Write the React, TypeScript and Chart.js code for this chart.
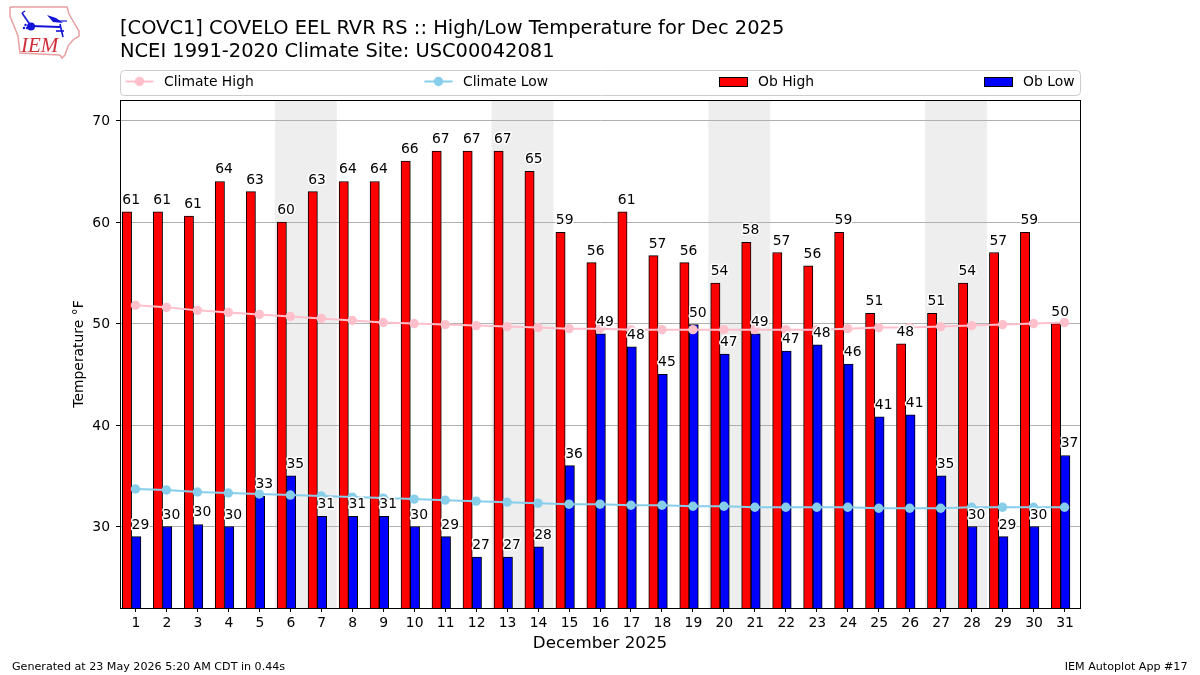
import React, { useEffect, useRef } from "react";
import { Chart, registerables } from "chart.js";

Chart.register(...registerables);

const titleLines = [
  "[COVC1] COVELO EEL RVR RS :: High/Low Temperature for Dec 2025",
  "NCEI 1991-2020 Climate Site: USC00042081",
];
const days = [1, 2, 3, 4, 5, 6, 7, 8, 9, 10, 11, 12, 13, 14, 15, 16, 17, 18, 19, 20, 21, 22, 23, 24, 25, 26, 27, 28, 29, 30, 31];
const obHigh = [61, 61, 60.6, 64, 63, 60, 63, 64, 64, 66, 67, 67, 67, 65, 59, 56, 61, 56.7, 56, 54, 58, 57, 55.7, 59, 51, 48, 51, 54, 57, 59, 50];
const obLow = [29, 30, 30.2, 30, 33, 35, 31, 31, 31, 30, 29, 27, 27, 28, 36, 49, 47.7, 45, 49.9, 47, 49, 47.3, 47.9, 46, 40.8, 41, 35, 30, 29, 30, 37];
const climateHigh = [51.8, 51.6, 51.3, 51.1, 50.9, 50.7, 50.5, 50.3, 50.1, 50.0, 49.9, 49.8, 49.7, 49.6, 49.5, 49.5, 49.4, 49.4, 49.4, 49.4, 49.4, 49.4, 49.4, 49.5, 49.6, 49.6, 49.7, 49.8, 49.9, 50.0, 50.1];
const climateLow = [33.7, 33.6, 33.4, 33.3, 33.2, 33.1, 33.0, 32.9, 32.8, 32.7, 32.6, 32.5, 32.4, 32.3, 32.2, 32.2, 32.1, 32.1, 32.0, 32.0, 31.9, 31.9, 31.9, 31.9, 31.8, 31.8, 31.8, 31.9, 31.9, 31.9, 31.9];
const weekendSpans = [[5.5, 7.5], [12.5, 14.5], [19.5, 21.5], [26.5, 28.5]];
const yTicks = [30, 40, 50, 60, 70];
const footerLeft = "Generated at 23 May 2026 5:20 AM CDT in 0.44s";
const footerRight = "IEM Autoplot App #17";

const FONT = "'DejaVu Sans'";
const BAR_UNITS = 0.3;
const BAR_SHIFT = 0.025;

const bandsPlugin = {
  id: "bands",
  beforeDraw(chart: any) {
    const { ctx, chartArea, scales } = chart;
    ctx.save();
    ctx.fillStyle = "#eeeeee";
    for (const [a, b] of weekendSpans) {
      const x0 = scales.x.getPixelForValue(a);
      const x1 = scales.x.getPixelForValue(b);
      ctx.fillRect(x0, chartArea.top, x1 - x0, chartArea.bottom - chartArea.top);
    }
    ctx.restore();
  },
};

const overlayPlugin = {
  id: "overlay",
  afterDatasetsDraw(chart: any) {
    const { ctx, chartArea, scales } = chart;
    ctx.save();
    ctx.strokeStyle = "#000";
    ctx.lineWidth = 1;
    ctx.strokeRect(chartArea.left + 0.5, chartArea.top + 0.5, chartArea.right - chartArea.left, chartArea.bottom - chartArea.top);

    ctx.font = `13.9px ${FONT}`;
    ctx.textAlign = "left";
    ctx.textBaseline = "alphabetic";
    ctx.lineJoin = "round";
    const unit = scales.x.getPixelForValue(1) - scales.x.getPixelForValue(0);
    const halfBar = (BAR_UNITS * unit) / 2;
    const draw = (vals: number[], off: number) => {
      vals.forEach((v, i) => {
        const x = scales.x.getPixelForValue(days[i] + off) - halfBar;
        const y = scales.y.getPixelForValue(v) - 8;
        const s = String(Math.round(v));
        ctx.strokeStyle = "#fff";
        ctx.lineWidth = 3;
        ctx.strokeText(s, x, y);
        ctx.fillStyle = "#000";
        ctx.fillText(s, x, y);
      });
    };
    draw(obHigh, BAR_SHIFT - BAR_UNITS);
    draw(obLow, BAR_SHIFT);
    ctx.restore();
  },
  afterDraw(chart: any) {
    const { ctx, chartArea } = chart;
    ctx.save();
    const lx = chartArea.left + 0.5;
    const lw = chartArea.right - chartArea.left;
    ctx.beginPath();
    ctx.roundRect(lx, 70.5, lw, 25, 4);
    ctx.strokeStyle = "#cccccc";
    ctx.lineWidth = 1;
    ctx.stroke();
    ctx.fillStyle = "#000";
    ctx.font = `13.9px ${FONT}`;
    ctx.textBaseline = "alphabetic";
    ctx.textAlign = "left";
    const starts = [125.5, 424.5, 719, 984];
    chart.data.datasets.forEach((ds: any, i: number) => {
      const x = starts[i];
      const cy = 81.5;
      let textOff = 39;
      if (ds.type === "line") {
        textOff = 38.5;
        ctx.strokeStyle = ds.borderColor;
        ctx.lineWidth = 2;
        ctx.beginPath();
        ctx.moveTo(x, cy);
        ctx.lineTo(x + 28, cy);
        ctx.stroke();
        ctx.fillStyle = ds.backgroundColor;
        ctx.beginPath();
        ctx.arc(x + 14, cy, 4.7, 0, Math.PI * 2);
        ctx.fill();
      } else {
        ctx.fillStyle = ds.backgroundColor;
        ctx.fillRect(x, 77, 28, 10);
        ctx.strokeStyle = "#000";
        ctx.lineWidth = 1;
        ctx.strokeRect(x + 0.5, 77.5, 28, 9);
      }
      ctx.fillStyle = "#000";
      ctx.fillText(ds.label, x + textOff, 86);
    });
    ctx.font = `11.12px ${FONT}`;
    ctx.textAlign = "left";
    ctx.fillText(footerLeft, 12, 670);
    ctx.textAlign = "right";
    ctx.fillText(footerRight, 1187.5, 670);
    ctx.restore();
  },
};

function Logo() {
  return (
    <svg width="90" height="64" style={{ position: "absolute", left: 0, top: 0 }}>
      <polyline
        points="10,7 67,7 69,14 73,21 79,31 79,36 73,40 68,46 65,55 62,58 60,55 20,53 18,36 10,16 10,7"
        fill="none"
        stroke="#e8a0a0"
        strokeWidth="1.5"
      />
      <line x1="31" y1="26" x2="60" y2="27" stroke="#1414d8" strokeWidth="2" />
      <circle cx="31" cy="26.5" r="4" fill="#1414d8" />
      <polygon points="47,15 56,18 63,23 53,22" fill="#1414d8" />
      <line x1="54" y1="21" x2="67" y2="21" stroke="#1414d8" strokeWidth="1.2" />
      <line x1="60" y1="24" x2="63" y2="37" stroke="#1414d8" strokeWidth="1.6" />
      <line x1="56" y1="31" x2="64" y2="31" stroke="#1414d8" strokeWidth="1.6" />
      <line x1="22" y1="13" x2="31" y2="26" stroke="#1414d8" strokeWidth="1.6" />
      <line x1="22" y1="13" x2="25" y2="11" stroke="#1414d8" strokeWidth="1.4" />
      <circle cx="24" cy="28" r="1.2" fill="#1414d8" />
      <circle cx="27" cy="28" r="1.2" fill="#1414d8" />
      <circle cx="25.5" cy="25" r="1.2" fill="#1414d8" />
      <text x="21" y="52" fontFamily="'Liberation Serif'" fontStyle="italic" fontSize="21" fill="#d0303a">IEM</text>
    </svg>
  );
}

export default function App() {
  const ref = useRef<HTMLCanvasElement>(null);
  useEffect(() => {
    const chart = new Chart(ref.current!, {
      type: "bar",
      plugins: [bandsPlugin, overlayPlugin],
      data: {
        datasets: [
          {
            type: "line",
            label: "Climate High",
            data: days.map((d, i) => ({ x: d, y: climateHigh[i] })),
            borderColor: "#ffc0cb",
            backgroundColor: "#ffc0cb",
            borderWidth: 2,
            pointRadius: 4.7,
            pointBorderWidth: 0,
            order: 1,
          },
          {
            type: "line",
            label: "Climate Low",
            data: days.map((d, i) => ({ x: d, y: climateLow[i] })),
            borderColor: "#87ceeb",
            backgroundColor: "#87ceeb",
            borderWidth: 2,
            pointRadius: 4.7,
            pointBorderWidth: 0,
            order: 2,
          },
          {
            type: "bar",
            label: "Ob High",
            data: days.map((d, i) => ({ x: d - BAR_UNITS + BAR_SHIFT, y: obHigh[i] })),
            backgroundColor: "#ff0000",
            borderColor: "#000",
            borderWidth: 1,
            barThickness: 9.3,
            grouped: false,
            order: 3,
          },
          {
            type: "bar",
            label: "Ob Low",
            data: days.map((d, i) => ({ x: d + BAR_SHIFT, y: obLow[i] })),
            backgroundColor: "#0000ff",
            borderColor: "#000",
            borderWidth: 1,
            barThickness: 9.3,
            grouped: false,
            order: 4,
          },
        ] as any,
      },
      options: {
        animation: false,
        responsive: false,
        layout: { padding: { top: 0, left: 0, right: 120, bottom: 0 } },
        plugins: {
          legend: { display: false },
          tooltip: { enabled: false },
          title: {
            display: true,
            text: titleLines,
            align: "start",
            fullSize: false,
            color: "#000",
            font: { family: FONT, size: 19.44, weight: "normal", lineHeight: 1.15 },
            padding: { top: 18.2, bottom: 37.1 },
          },
        },
        scales: {
          x: {
            type: "linear",
            min: 0.5,
            max: 31.5,
            offset: false,
            grid: { display: true, offset: false, drawOnChartArea: false, tickColor: "#000", tickLength: 4, lineWidth: 1 },
            border: { color: "#000" },
            afterBuildTicks: (s: any) => { s.ticks = days.map((v) => ({ value: v })); },
            afterFit: (s: any) => { s.height = 67; },
            ticks: { color: "#000", autoSkip: false, maxRotation: 0, padding: 3, labelOffset: 0.5, font: { family: FONT, size: 13.9 }, callback: (v: any) => String(v) },
            title: { display: true, text: "December 2025", color: "#000", font: { family: FONT, size: 16.7 }, padding: { top: 0, bottom: 21 } },
          },
          y: {
            type: "linear",
            min: 21.97,
            max: 72.03,
            grid: { color: "#b0b0b0", lineWidth: 1, tickColor: "#000", tickLength: 4 },
            border: { color: "#000" },
            afterBuildTicks: (s: any) => { s.ticks = yTicks.map((v) => ({ value: v })); },
            afterFit: (s: any) => { s.width = 120; },
            ticks: { color: "#000", padding: 6, labelOffset: 1, font: { family: FONT, size: 13.9 }, callback: (v: any) => String(v) },
            title: { display: true, text: "Temperature °F", color: "#000", font: { family: FONT, size: 13.9 }, padding: { top: 71, bottom: 0 } },
          },
        },
      },
    } as any);
    return () => chart.destroy();
  }, []);
  return (
    <div style={{ position: "absolute", left: 0, top: 0, width: 1200, height: 675, background: "#fff", overflow: "hidden" }}>
      <canvas ref={ref} width={1200} height={675} style={{ display: "block" }} />
      <Logo />
    </div>
  );
}
